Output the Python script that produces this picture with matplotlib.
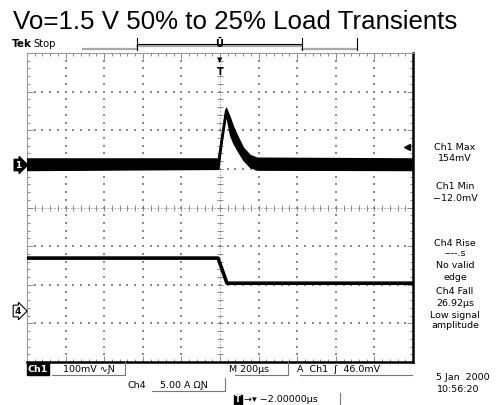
import numpy as np
import matplotlib
matplotlib.use('Agg')
import matplotlib.pyplot as plt
from matplotlib.lines import Line2D
import matplotlib.transforms as mtransforms

W, H = 498, 405

# scope settings
time_div_us = 200
ch1_scale_mv = 100
ch4_scale_a = 5
ch1_pos_div = 1.1
ch4_pos_div = -2.68
trig_level_mv = 46

t_ch1 = [-1000, -9, 9, 31, 52, 69, 95, 121, 155, 190, 1000]
ch1_hi_mv = [17, 17, 75, 148, 122, 98, 70, 44, 26, 19, 17]
ch1_lo_mv = [-13, -10, 60, 132, 78, 57, 34, 13, -5, -12, -13]

# Ch4 (load current), A vs us
t_ch4 = [-1000, -10, 36, 1000]
ch4_amps = [6.85, 6.85, 3.6, 3.6]

meas_lines = [(147, "Ch1 Max"), (158, "154mV"),
              (187, "Ch1 Min"), (198, "\u221212.0mV"),
              (243, "Ch4 Rise"), (254, "----.s"), (266, "No valid"), (277, "edge"),
              (292, "Ch4 Fall"), (304, "26.92\u00b5s"), (315, "Low signal"), (326, "amplitude")]

fig = plt.figure(figsize=(W / 100, H / 100), dpi=100)
fig.patch.set_facecolor('white')


def ftext(x, y, s, **kw):
    kw.setdefault('fontsize', 6.8)
    kw.setdefault('family', 'DejaVu Sans')
    return fig.text(x / W, 1 - y / H, s, **kw)


def fline(xs, ys, **kw):
    fig.add_artist(Line2D([x / W for x in xs], [1 - y / H for y in ys], **kw))


# title
ftext(13, 29, "Vo=1.5 V 50% to 25% Load Transients", fontsize=18.6,
      family='Liberation Sans', va='baseline', ha='left')

# screen
ax = fig.add_axes([27 / W, 1 - 362 / H, 386 / W, 309 / H])
ax.set_xlim(-5 * time_div_us, 5 * time_div_us)
ax.set_ylim(-4, 4)

minor_x = np.arange(-5, 5.01, 0.2) * time_div_us
minor_y = np.arange(-4, 4.01, 0.2)
major_x = np.arange(-4, 5) * time_div_us
major_y = np.arange(-3, 4)

# dotted graticule
gx, gy = [], []
for mx in major_x:
    if mx != 0:
        gx += [mx] * len(minor_y)
        gy += list(minor_y)
for my in major_y:
    if my != 0:
        gx += list(minor_x)
        gy += [my] * len(minor_x)
ax.scatter(gx, gy, s=1.0, marker='s', color='#8a8a8a', linewidths=0, zorder=1)

# center crosshair with ticks
ax.axhline(0, color='#9a9a9a', lw=0.6, ls=(0, (2, 2)), zorder=1)
ax.axvline(0, color='#9a9a9a', lw=0.6, ls=(0, (2, 2)), zorder=1)
ax.plot(minor_x, np.zeros_like(minor_x), ls='none', marker='|', ms=4, mew=0.6, color='#777', zorder=1)
ax.plot(np.zeros_like(minor_y), minor_y, ls='none', marker='_', ms=4, mew=0.6, color='#777', zorder=1)

# frame + edge ticks
ax.set_xticks(major_x)
ax.set_yticks(major_y)
ax.set_xticks(minor_x, minor=True)
ax.set_yticks(minor_y, minor=True)
ax.tick_params(which='both', direction='in', top=True, right=True,
               labelbottom=False, labelleft=False, color='#777', width=0.6)
ax.tick_params(which='major', length=4)
ax.tick_params(which='minor', length=2.5)
for side in ['left', 'top']:
    ax.spines[side].set_color('#999')
    ax.spines[side].set_linewidth(0.8)
for side in ['right', 'bottom']:
    ax.spines[side].set_color('black')
    ax.spines[side].set_linewidth(1.8)

# traces
t1 = np.array(t_ch1, dtype=float)
hi = ch1_pos_div + np.array(ch1_hi_mv) / ch1_scale_mv
lo = ch1_pos_div + np.array(ch1_lo_mv) / ch1_scale_mv
ax.fill_between(t1, lo, hi, color='black', lw=1.0, edgecolor='black', zorder=3)
ax.plot(t1, (hi + lo) / 2, color='black', lw=1.6, zorder=3)

y4 = ch4_pos_div + np.array(ch4_amps) / ch4_scale_a
ax.plot(t_ch4, y4, color='black', lw=2.6, zorder=3)

# channel markers
blend = mtransforms.blended_transform_factory(ax.transAxes, ax.transData)
ax.text(-0.022, ch1_pos_div, "1", transform=blend, ha='center', va='center', fontsize=6.5,
        color='white', fontweight='bold', clip_on=False,
        bbox=dict(boxstyle='rarrow,pad=0.15', fc='black', ec='black', lw=0.8))
ax.text(-0.024, ch4_pos_div, "4", transform=blend, ha='center', va='center', fontsize=6.5,
        color='black', fontweight='bold', clip_on=False,
        bbox=dict(boxstyle='rarrow,pad=0.15', fc='white', ec='black', lw=0.8))
ax.plot([0.985], [ch1_pos_div + trig_level_mv / ch1_scale_mv], transform=blend,
        marker='<', ms=4, color='black', clip_on=False, zorder=4)

# trigger position marker
blend_x = mtransforms.blended_transform_factory(ax.transData, ax.transAxes)
ax.text(0, 0.985, "\u25bc", transform=blend_x, ha='center', va='top', fontsize=5, color='black')
ax.text(0, 0.955, "T", transform=blend_x, ha='center', va='top', fontsize=7,
        fontweight='bold', color='black')

# top status bar
ftext(12, 44, "Tek", fontweight='bold', fontsize=7.5, va='center')
ftext(33, 44, "Stop", fontsize=7.2, va='center')
fline([83, 137], [49, 49], color='#aaa', lw=1.6)
fline([302, 357], [49, 49], color='#aaa', lw=1.6)
fline([137, 302], [46, 46], color='#aaa', lw=1.6)
fline([137, 302], [44, 44], color='black', lw=0.8)
fline([137, 137], [38, 50], color='black', lw=0.8)
fline([302, 302], [38, 50], color='black', lw=0.8)
fline([357, 357], [38, 50], color='black', lw=0.8)
ftext(219, 44, "\u016a", fontsize=7, ha='center', va='center', fontweight='bold')

# measurement readouts
for y, s in meas_lines:
    ftext(455, y, s, ha='center', va='center')
ftext(436, 378, "5 Jan  2000", ha='left', va='center')
ftext(437, 390, "10:56:20", ha='left', va='center')

# bottom settings readout
ftext(38, 369, "Ch1", ha='center', va='center', color='white', fontweight='bold',
      bbox=dict(boxstyle='square,pad=0.12', fc='black', ec='black'))
ftext(63, 369, "100mV \u223f\u019d", ha='left', va='center')
fline([52, 125], [375, 375], color='#777', lw=0.8)
fline([125, 125], [362, 375], color='#777', lw=0.8)
ftext(229, 369, "M 200\u00b5s", ha='left', va='center')
fline([235, 288], [375, 375], color='#777', lw=0.8)
fline([288, 288], [362, 375], color='#777', lw=0.8)
ftext(297, 369, "A  Ch1  \u0283  46.0mV", ha='left', va='center')
fline([300, 412], [375, 375], color='#777', lw=0.8)
ftext(128, 385, "Ch4", ha='left', va='center')
ftext(160, 385, "5.00 A \u03a9\u019d", ha='left', va='center')
fline([152, 225], [391, 391], color='#777', lw=0.8)
fline([225, 225], [378, 391], color='#777', lw=0.8)
ftext(238, 400, "T", ha='center', va='center', color='white', fontweight='bold', fontsize=6,
      bbox=dict(boxstyle='square,pad=0.08', fc='black', ec='black'))
ftext(244, 400, "\u2192\u25be \u22122.00000\u00b5s", ha='left', va='center')
fline([340, 340], [393, 405], color='#777', lw=0.8)

fig.savefig('out.png', dpi=100)
